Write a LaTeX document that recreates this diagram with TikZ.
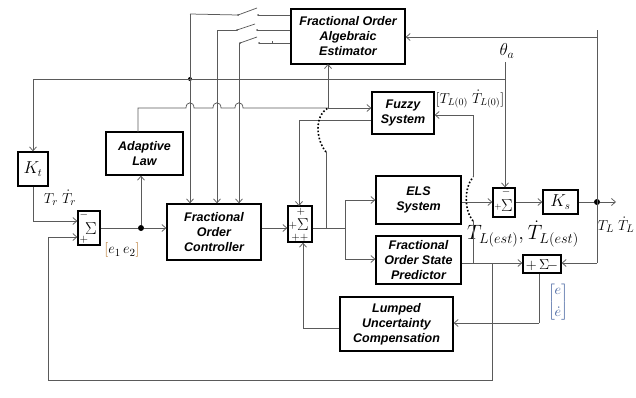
\documentclass[tikz,border=0pt]{standalone}
\usepackage{fontspec}
\setmainfont{Liberation Sans}
\usetikzlibrary{arrows.meta,calc}
\definecolor{wire}{HTML}{5A5A5A}
\definecolor{brk}{HTML}{B06A1A}
\definecolor{brkb}{HTML}{3A5A9A}
\begin{document}
\begin{tikzpicture}[x=1pt,y=-1pt,
  blk/.style={draw=black,line width=1.3pt,fill=white,inner sep=0pt,align=center,
    font=\fontsize{12.5}{15}\selectfont\bfseries\itshape},
  sumbox/.style={draw=black,line width=1.3pt,fill=white,inner sep=0pt},
  wr/.style={draw=wire,line width=0.75pt},
  arr/.style={wr,-{Straight Barb[length=4pt,width=7pt]}},
  jdot/.style={circle,fill=black,inner sep=0pt,minimum size=6pt},
  sdot/.style={circle,fill=wire,inner sep=0pt,minimum size=2pt},
  lbl/.style={inner sep=0pt,font=\fontsize{15}{17}\selectfont},
  sig/.style={inner sep=0pt,font=\fontsize{17}{17}\selectfont},
  pm/.style={inner sep=0pt,font=\fontsize{11}{11}\selectfont}
]
\useasboundingbox (0,0) rectangle (636,397);

% blocks
\node[blk,minimum width=114pt,minimum height=55pt] (foae) at (348,36.5) {Fractional Order\\Algebraic\\Estimator};
\node[blk,minimum width=62pt,minimum height=42pt] (fuzzy) at (403,113) {Fuzzy\\System};
\node[blk,minimum width=77pt,minimum height=43pt] (adapt) at (144.5,153.5) {Adaptive\\Law};
\node[blk,minimum width=30pt,minimum height=34pt,font=\fontsize{16}{16}\selectfont] (kt) at (33,169) {$K_t$};
\node[blk,minimum width=94pt,minimum height=56pt] (foc) at (214,232) {Fractional\\Order\\Controller};
\node[blk,minimum width=85pt,minimum height=48pt] (els) at (418.5,200) {ELS\\System};
\node[blk,minimum width=85pt,minimum height=48pt] (fosp) at (418.5,260) {Fractional\\Order State\\Predictor};
\node[blk,minimum width=113pt,minimum height=54pt] (lump) at (396.5,324) {Lumped\\Uncertainty\\Compensation};
\node[blk,minimum width=35pt,minimum height=24pt,font=\fontsize{16}{16}\selectfont] (ks) at (560.5,202) {$K_s$};

% summing junctions
\node[sumbox,minimum width=22pt,minimum height=34pt] (sumL) at (89,228) {};
\node[sig] (sumLs) at (91,229) {$\Sigma$};
\node[pm] (sumLm) at (84,215) {$-$};
\node[pm] (sumLp) at (84,240) {$+$};

\node[sumbox,minimum width=24pt,minimum height=36pt] (sumM) at (300,224) {};
\node[sig] (sumMs) at (303,225) {$\Sigma$};
\node[pm] (sumMt) at (301,212) {$+$};
\node[pm] (sumMl) at (293,226) {$+$};
\node[pm] (sumMb) at (300,238) {$++$};

\node[sumbox,minimum width=22pt,minimum height=29pt] (sumR) at (504,202.5) {};
\node[sig] (sumRs) at (507,206) {$\Sigma$};
\node[pm] (sumRm) at (506,192) {$-$};
\node[pm,font=\fontsize{9}{9}\selectfont] (sumRp) at (498,207) {$+$};

\node[sumbox,minimum width=38pt,minimum height=18pt] (sumB) at (542,264) {};
\node[inner sep=0pt,font=\fontsize{15}{15}\selectfont] (sumBs) at (542,265) {$+\,\Sigma\!-$};

% junction points
\node[jdot] (d1) at (141,228) {};
\node[jdot] (d2) at (597,202) {};
\node[jdot,minimum size=4pt] (d3) at (190,79) {};
\coordinate (outR) at (616,202);

% labels
\node[lbl] (lTr) at (60,198) {$T_r\;\dot T_r$};
\node[lbl] (le) at (122,250) {$\textcolor{brk}{\Big[}e_1\,e_2\textcolor{brk}{\Big]}$};
\node[lbl,font=\fontsize{18}{18}\selectfont] (lth) at (507,51) {$\theta_a$};
\node[lbl,font=\fontsize{14}{16}\selectfont] (lT0) at (470,99) {$[T_{L(0)}\;\dot T_{L(0)}]$};
\node[lbl,font=\fontsize{20}{22}\selectfont] (lTe) at (523,234) {$T_{L(est)},\dot T_{L(est)}$};
\node[lbl] (lee) at (558,302) {$\textcolor{brkb}{\left[\begin{array}{@{}c@{}}e\\[5pt]\dot e\end{array}\right]}$};
\node[lbl] (lTL) at (616,225) {$T_L\;\dot T_L$};

% switches to controller
\coordinate (sA) at (190,14);
\coordinate (sB) at (217,29);
\coordinate (sC) at (239,43);
\draw[wr] (foae.west |- 0,15) -- (258,15);
\draw[wr] (238,15) -- (257,8);
\draw[wr] (238,15) -- (sA);
\node[sdot] (sA1) at (238,15) {};
\node[sdot] (sA2) at (258,15) {};
\draw[wr] (foae.west |- 0,30) -- (257,30);
\draw[wr] (237,30) -- (255,24);
\draw[wr] (237,30) -- (sB |- 0,30);
\node[sdot] (sB1) at (237,30) {};
\node[sdot] (sB2) at (257,30) {};
\draw[wr] (foae.west |- 0,43) -- (259,43);
\draw[wr] (240,43) -- (257,37);
\draw[wr] (272,41) -- (272,43);
\node[sdot] (sC1) at (240,43) {};
\node[sdot] (sC2) at (259,43) {};
\draw[arr] (sA) -- (sA |- foc.north);
\draw[arr] (sB |- 0,30) -- (sB |- foc.north);
\draw[arr] (sC) -- (sC |- foc.north);

% theta_a line and K_t
\draw[arr] (505,62) -- (sumR.north -| 505,0);
\draw[wr] (505,79) -- (33,79);
\draw[arr] (33,79) -- (kt.north);
\draw[wr] (kt.south) -- (33,221);
\draw[arr] (33,221) -- (sumL.west |- 0,221);

% main forward path
\draw[wr] (sumL.east |- d1) -- (d1);
\draw[arr] (d1) -- (foc.west |- d1);
\draw[arr] (d1) -- (d1 |- adapt.south);
\draw[arr] (foc.east |- d1) -- (sumM.west |- d1);

% adaptive law output with hops
\draw[wr] (138,132) -- (138,108) -- (186,108) .. controls (186,101) and (194,101) .. (194,108)
  -- (213,108) .. controls (213,101) and (221,101) .. (221,108)
  -- (235,108) .. controls (235,101) and (243,101) .. (243,108) -- (328,108);
\draw[arr] (328,108) -- (fuzzy.west |- 0,108);
\draw[arr] (328,108) -- (328,64);

% fuzzy output to sumM
\draw[wr] (fuzzy.west |- 0,120) -- (299,120);
\draw[arr] (299,120) -- (299,206);

% sumM output
\draw[wr] (sumM.east |- d1) -- (345,228);
\draw[wr] (326,228) -- (326,152);
\draw[draw=black,line width=1.6pt,dotted] (326,152) .. controls (316,140) and (314,116) .. (328,108);
\draw[wr] (345,200) -- (345,259);
\draw[arr] (345,200) -- (els.west |- 0,200);
\draw[arr] (345,259) -- (fosp.west |- 0,259);

% ELS output
\draw[arr] (els.east |- 0,202) -- (sumR.west |- 0,202);
\draw[arr] (sumR.east |- 0,202) -- (ks.west |- 0,202);
\draw[wr] (ks.east |- 0,202) -- (d2);
\draw[arr] (d2) -- (outR);

% feedback of T_L
\draw[wr] (597,30) -- (597,263);
\draw[arr] (597,263) -- (sumB.east |- 0,263);
\draw[arr] (597,37) -- (foae.east |- 0,37);

% FOSP output
\draw[arr] (fosp.east |- 0,263) -- (sumB.west |- 0,263);
\draw[wr] (473,263) -- (473,221);
\draw[draw=black,line width=1.6pt,dotted] (473,221) .. controls (464,210) and (464,188) .. (473,177);
\draw[wr] (473,177) -- (473,115);
\draw[arr] (473,115) -- (fuzzy.east |- 0,115);
\draw[wr] (492,263) -- (492,380) -- (48,380) -- (48,237);
\draw[arr] (48,237) -- (sumL.west |- 0,237);

% error to lumped
\draw[wr] (sumB.south -| 539,0) -- (539,323);
\draw[arr] (539,323) -- (lump.east |- 0,323);
\draw[wr] (lump.west |- 0,328) -- (303,328);
\draw[arr] (303,328) -- (sumM.south -| 303,0);
\end{tikzpicture}
\end{document}
